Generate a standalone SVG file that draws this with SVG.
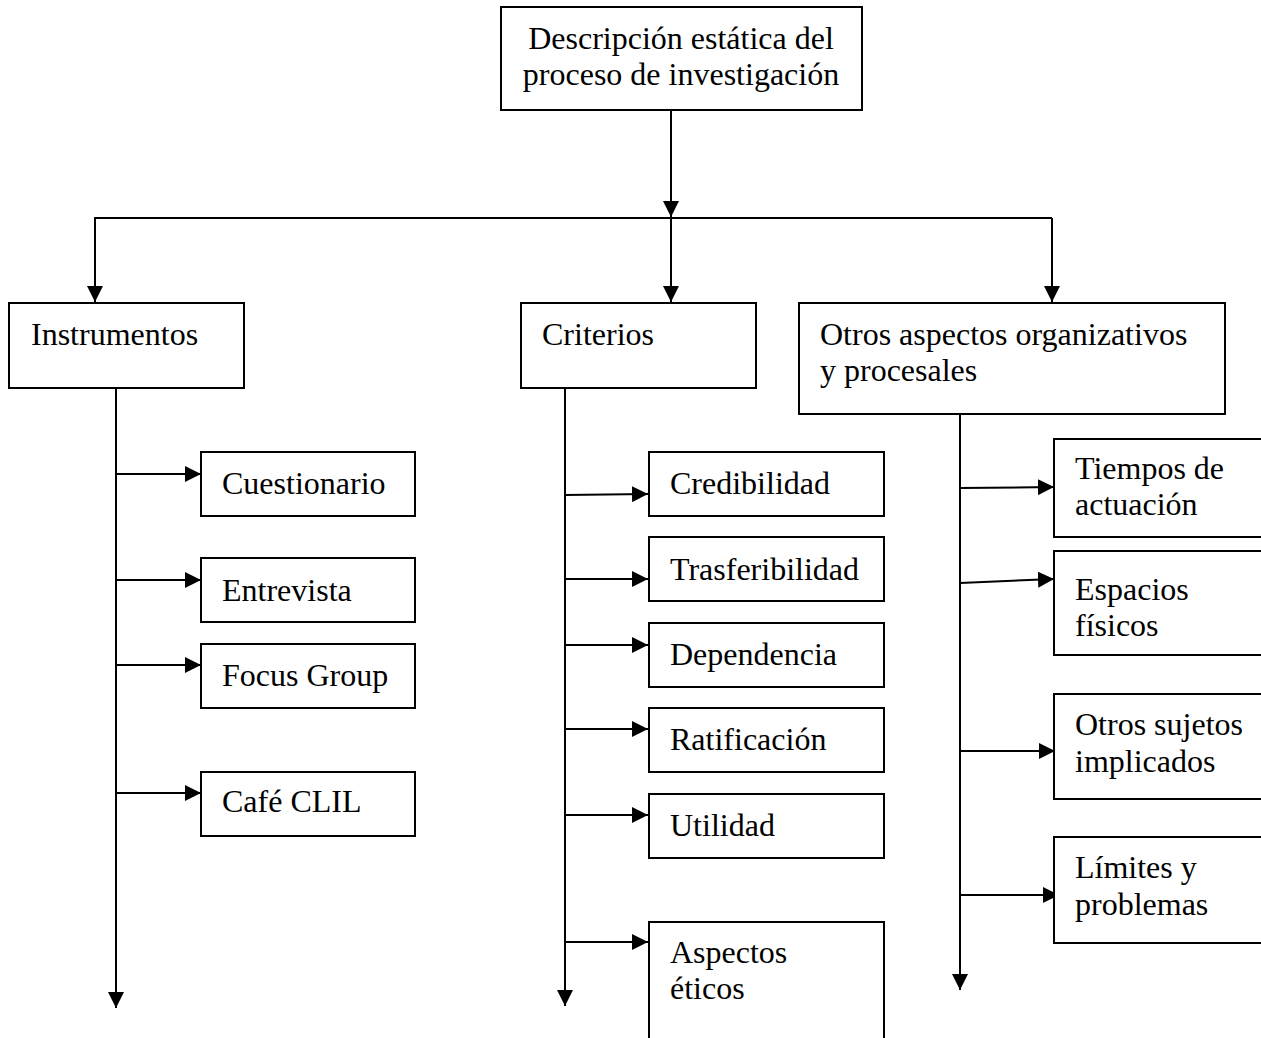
<svg xmlns="http://www.w3.org/2000/svg" width="1261" height="1038" viewBox="0 0 1261 1038">
<style>
.box{fill:#fff;stroke:#000;stroke-width:2}
.t{font-family:"Liberation Serif","Times New Roman",serif;font-size:32px;fill:#000}
.c{fill:none;stroke:#000;stroke-width:2}
</style>
<defs>
<marker id="ah" markerUnits="userSpaceOnUse" markerWidth="16" markerHeight="16" refX="16" refY="8" orient="auto" viewBox="0 0 16 16">
<path d="M0,0 L16,8 L0,16 z" fill="#000"/>
</marker>
</defs>
<rect width="1261" height="1038" fill="#fff"/>
<g id="connectors">
<line class="c" x1="671" y1="110" x2="671" y2="217" marker-end="url(#ah)"/>
<polyline class="c" points="95,290 95,218 1052,218"/>
<line class="c" x1="95" y1="280" x2="95" y2="302" marker-end="url(#ah)"/>
<line class="c" x1="671" y1="218" x2="671" y2="302" marker-end="url(#ah)"/>
<line class="c" x1="1052" y1="218" x2="1052" y2="302" marker-end="url(#ah)"/>
<line class="c" x1="116" y1="388" x2="116" y2="1008" marker-end="url(#ah)"/>
<line class="c" x1="116" y1="474" x2="201" y2="474" marker-end="url(#ah)"/>
<line class="c" x1="116" y1="580" x2="201" y2="580" marker-end="url(#ah)"/>
<line class="c" x1="116" y1="665" x2="201" y2="665" marker-end="url(#ah)"/>
<line class="c" x1="116" y1="793" x2="201" y2="793" marker-end="url(#ah)"/>
<line class="c" x1="565" y1="388" x2="565" y2="1006" marker-end="url(#ah)"/>
<line class="c" x1="565" y1="495" x2="648" y2="494" marker-end="url(#ah)"/>
<line class="c" x1="565" y1="579" x2="648" y2="579" marker-end="url(#ah)"/>
<line class="c" x1="565" y1="645" x2="648" y2="645" marker-end="url(#ah)"/>
<line class="c" x1="565" y1="729" x2="648" y2="729" marker-end="url(#ah)"/>
<line class="c" x1="565" y1="815" x2="648" y2="815" marker-end="url(#ah)"/>
<line class="c" x1="565" y1="942" x2="648" y2="942" marker-end="url(#ah)"/>
<line class="c" x1="960" y1="414" x2="960" y2="990" marker-end="url(#ah)"/>
<line class="c" x1="960" y1="488" x2="1054" y2="487" marker-end="url(#ah)"/>
<line class="c" x1="960" y1="583" x2="1054" y2="579" marker-end="url(#ah)"/>
<line class="c" x1="960" y1="751" x2="1055" y2="751" marker-end="url(#ah)"/>
<line class="c" x1="960" y1="895" x2="1059" y2="895" marker-end="url(#ah)"/>
</g>
<g id="root"><rect class="box" x="501" y="7" width="361" height="103"/>
<text class="t" x="681" y="49" text-anchor="middle">Descripción estática del</text>
<text class="t" x="681" y="85" text-anchor="middle">proceso de investigación</text></g>
<g id="instrumentos"><rect class="box" x="9" y="303" width="235" height="85"/><text class="t" x="31" y="345">Instrumentos</text></g>
<g id="criterios"><rect class="box" x="521" y="303" width="235" height="85"/><text class="t" x="542" y="345">Criterios</text></g>
<g id="otros-aspectos"><rect class="box" x="799" y="303" width="426" height="111"/><text class="t" x="820" y="345">Otros aspectos organizativos</text><text class="t" x="820" y="381">y procesales</text></g>
<g id="cuestionario"><rect class="box" x="201" y="452" width="214" height="64"/><text class="t" x="222" y="494">Cuestionario</text></g>
<g id="entrevista"><rect class="box" x="201" y="558" width="214" height="64"/><text class="t" x="222" y="601">Entrevista</text></g>
<g id="focus-group"><rect class="box" x="201" y="644" width="214" height="64"/><text class="t" x="222" y="686">Focus Group</text></g>
<g id="cafe-clil"><rect class="box" x="201" y="772" width="214" height="64"/><text class="t" x="222" y="812">Café CLIL</text></g>
<g id="credibilidad"><rect class="box" x="649" y="452" width="235" height="64"/><text class="t" x="670" y="494">Credibilidad</text></g>
<g id="trasferibilidad"><rect class="box" x="649" y="537" width="235" height="64"/><text class="t" x="670" y="580">Trasferibilidad</text></g>
<g id="dependencia"><rect class="box" x="649" y="623" width="235" height="64"/><text class="t" x="670" y="665">Dependencia</text></g>
<g id="ratificacion"><rect class="box" x="649" y="708" width="235" height="64"/><text class="t" x="670" y="750">Ratificación</text></g>
<g id="utilidad"><rect class="box" x="649" y="794" width="235" height="64"/><text class="t" x="670" y="836">Utilidad</text></g>
<g id="aspectos-eticos"><rect class="box" x="649" y="922" width="235" height="130"/><text class="t" x="670" y="963">Aspectos</text><text class="t" x="670" y="999">éticos</text></g>
<g id="tiempos"><rect class="box" x="1054" y="439" width="220" height="98"/><text class="t" x="1075" y="479">Tiempos de</text><text class="t" x="1075" y="515">actuación</text></g>
<g id="espacios"><rect class="box" x="1054" y="551" width="220" height="104"/><text class="t" x="1075" y="600">Espacios</text><text class="t" x="1075" y="636">físicos</text></g>
<g id="otros-sujetos"><rect class="box" x="1054" y="694" width="220" height="105"/><text class="t" x="1075" y="735">Otros sujetos</text><text class="t" x="1075" y="772">implicados</text></g>
<g id="limites"><rect class="box" x="1054" y="837" width="220" height="106"/><text class="t" x="1075" y="878">Límites y</text><text class="t" x="1075" y="915">problemas</text></g>
</svg>
